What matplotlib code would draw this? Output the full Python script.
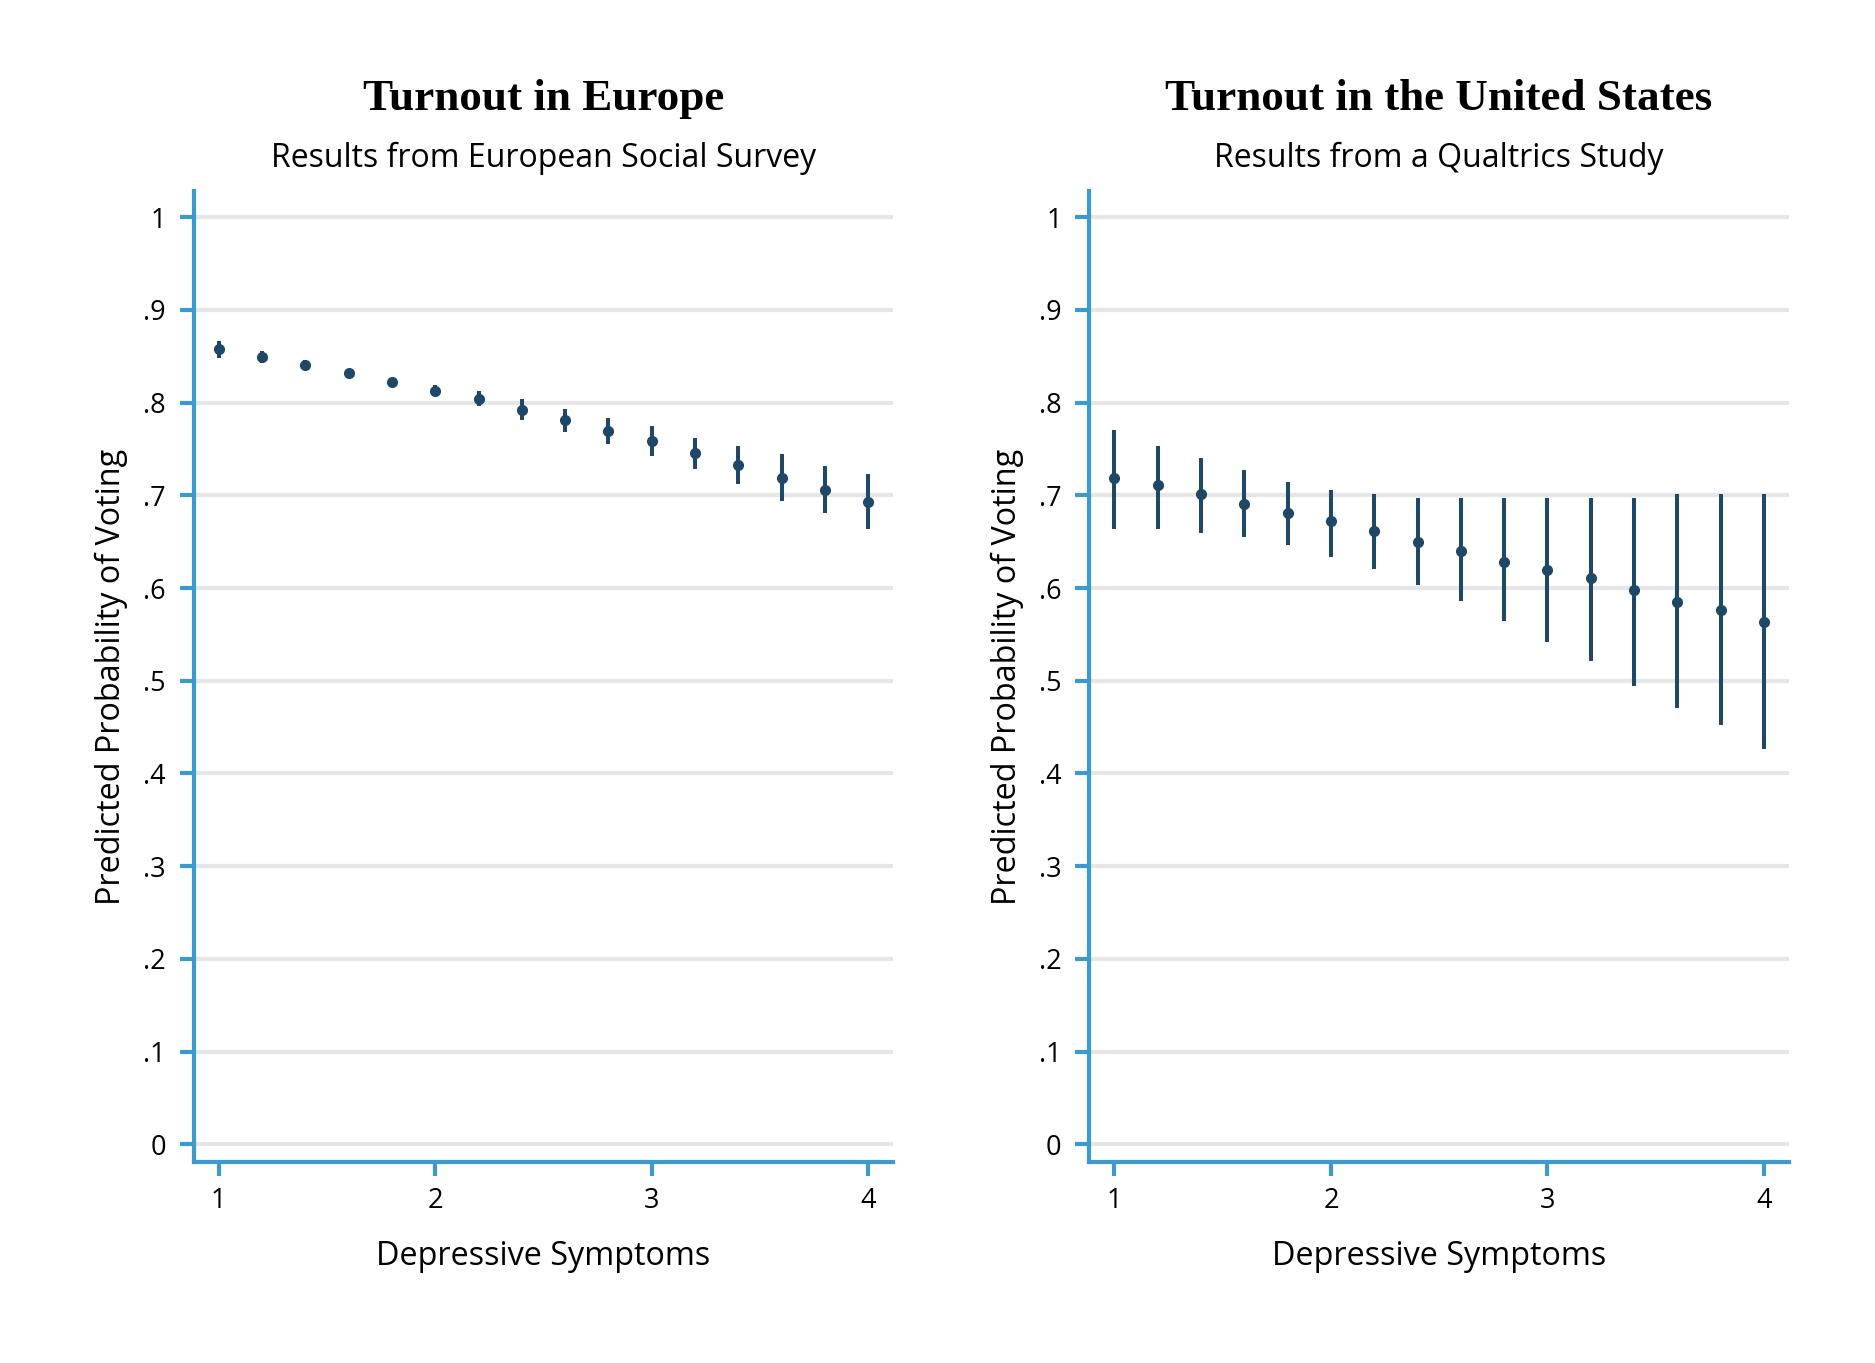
import numpy as np
import matplotlib
matplotlib.use("Agg")
import matplotlib.pyplot as plt

# predicted probabilities with 95% CI
symptoms = [1.0, 1.2, 1.4, 1.6, 1.8, 2.0, 2.2, 2.4, 2.6, 2.8, 3.0, 3.2, 3.4, 3.6, 3.8, 4.0]

eu_est = [0.858, 0.849, 0.841, 0.832, 0.822, 0.813, 0.804, 0.792, 0.781, 0.769, 0.759, 0.746, 0.733, 0.719, 0.706, 0.693]
eu_lo = [0.848, 0.843, 0.836, 0.829, 0.819, 0.808, 0.796, 0.781, 0.768, 0.755, 0.742, 0.728, 0.712, 0.694, 0.681, 0.664]
eu_hi = [0.867, 0.856, 0.846, 0.835, 0.825, 0.819, 0.812, 0.804, 0.793, 0.783, 0.775, 0.762, 0.753, 0.745, 0.732, 0.723]

us_est = [0.719, 0.711, 0.701, 0.691, 0.681, 0.672, 0.661, 0.650, 0.640, 0.628, 0.619, 0.611, 0.598, 0.585, 0.576, 0.563]
us_lo = [0.664, 0.664, 0.659, 0.655, 0.646, 0.634, 0.621, 0.603, 0.586, 0.564, 0.542, 0.521, 0.494, 0.471, 0.452, 0.426]
us_hi = [0.771, 0.753, 0.740, 0.727, 0.714, 0.706, 0.701, 0.697, 0.697, 0.697, 0.697, 0.697, 0.697, 0.701, 0.701, 0.701]

titles = ["Turnout in Europe", "Turnout in the United States"]
subtitles = ["Results from European Social Survey", "Results from a Qualtrics Study"]
yticks = [0, 0.1, 0.2, 0.3, 0.4, 0.5, 0.6, 0.7, 0.8, 0.9, 1.0]
ytick_labels = ["0", ".1", ".2", ".3", ".4", ".5", ".6", ".7", ".8", ".9", "1"]
xticks = [1, 2, 3, 4]

axis_blue = "#3b9bcf"
dot_blue = "#1f4766"
grid_grey = "#e6e6e6"
sans = ["Open Sans", "DejaVu Sans"]
serif = ["Liberation Serif", "DejaVu Serif"]

fig = plt.figure(figsize=(18.75, 13.63), dpi=100)

panels = [
    (0.1033, eu_est, eu_lo, eu_hi),
    (0.5810, us_est, us_lo, us_hi),
]

for i, (left, est, lo, hi) in enumerate(panels):
    ax = fig.add_axes([left, 0.1475, 0.3730, 0.7122])
    est = np.array(est)
    lo = np.array(lo)
    hi = np.array(hi)

    for y in yticks:
        ax.axhline(y, color=grid_grey, lw=3, zorder=0)

    ax.vlines(symptoms, lo, hi, color=dot_blue, lw=2.9, zorder=3)
    ax.plot(symptoms, est, "o", color=dot_blue, ms=7, zorder=4)

    ax.set_xlim(0.884, 4.115)
    ax.set_ylim(-0.019, 1.028)
    ax.set_xticks(xticks)
    ax.set_xticklabels([str(x) for x in xticks], family=sans, fontsize=19.5)
    ax.set_yticks(yticks)
    ax.set_yticklabels(ytick_labels, family=sans, fontsize=19.5)
    ax.tick_params(axis="both", color=axis_blue, width=3, length=10)
    ax.tick_params(axis="y", pad=10)
    ax.tick_params(axis="x", pad=8)

    for side in ["top", "right"]:
        ax.spines[side].set_visible(False)
    for side in ["left", "bottom"]:
        ax.spines[side].set_color(axis_blue)
        ax.spines[side].set_linewidth(3)

    ax.set_ylabel("Predicted Probability of Voting", family=sans, fontsize=23.3, labelpad=11)
    ax.set_xlabel("Depressive Symptoms", family=sans, fontsize=23.3, labelpad=18)

    cx = left + 0.3730 / 2
    fig.text(cx, 1 - 99 / 1363, titles[i], family=serif, fontweight="bold",
             fontsize=32.5, ha="center", va="center")
    fig.text(cx, 1 - 158 / 1363, subtitles[i], family=sans, fontsize=23,
             ha="center", va="center")

fig.savefig("out.png", dpi=100, facecolor="white")
